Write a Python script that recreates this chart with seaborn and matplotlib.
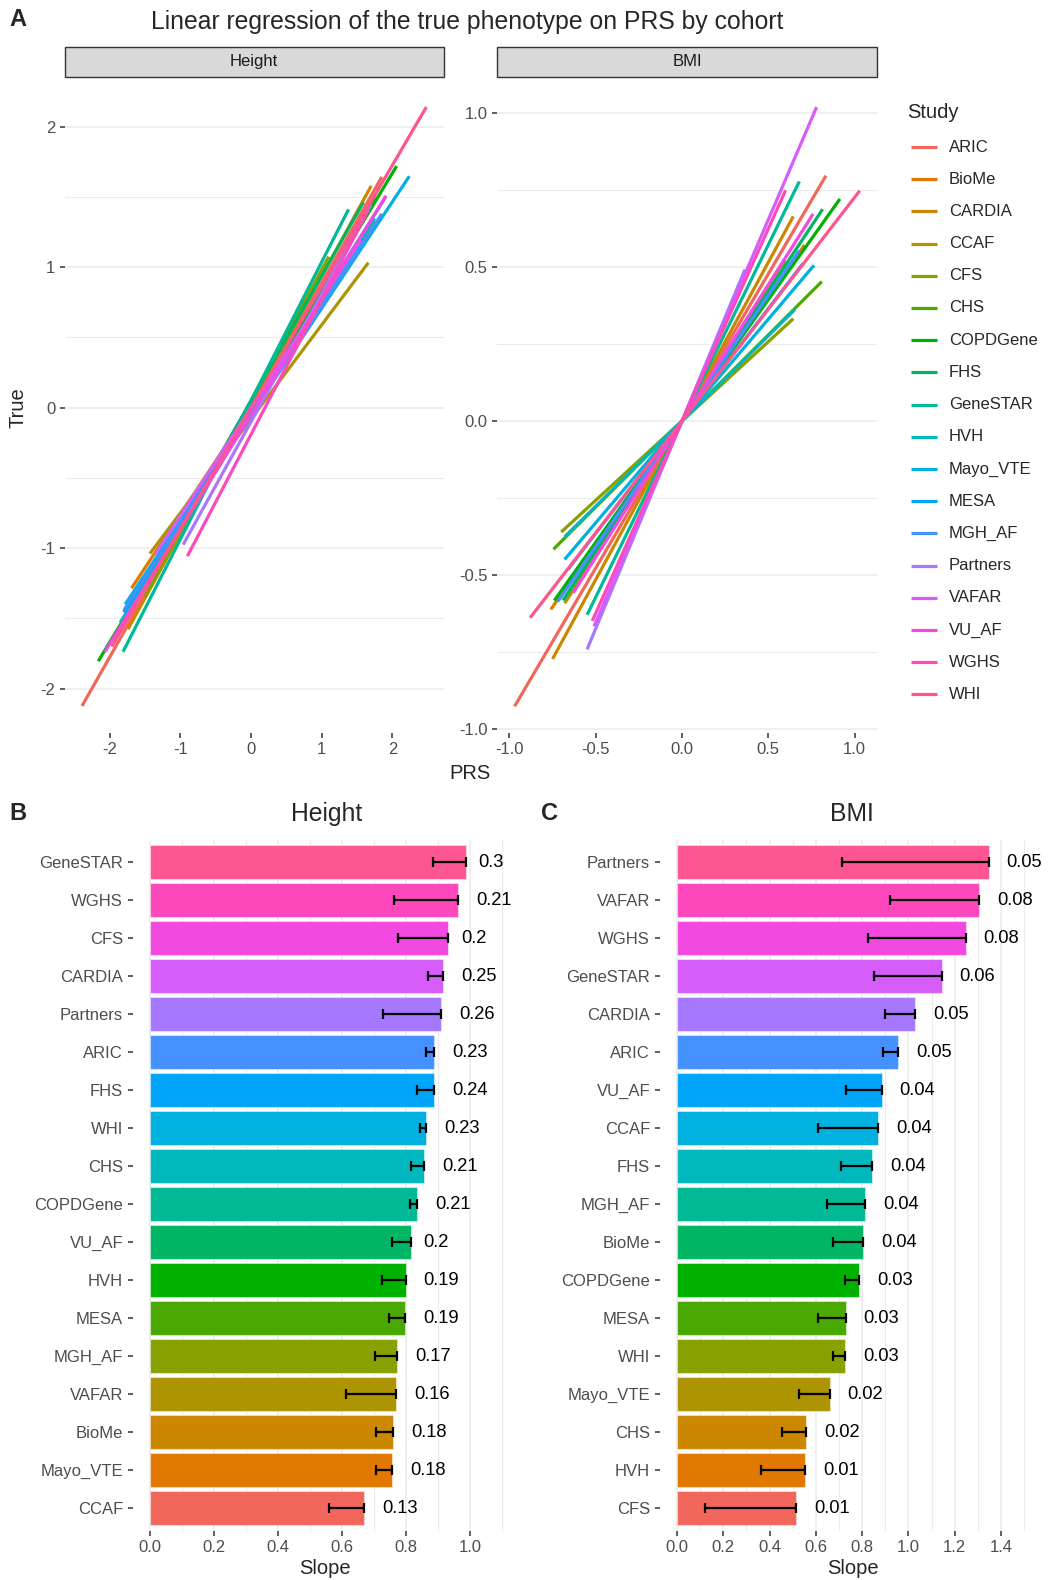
import numpy as np
import pandas as pd
import matplotlib
matplotlib.use("Agg")
import matplotlib.pyplot as plt
import matplotlib.transforms as mtransforms
from matplotlib.patches import Rectangle
from matplotlib.lines import Line2D
import seaborn as sns

# ---------------- data ----------------
studies = ["ARIC", "BioMe", "CARDIA", "CCAF", "CFS", "CHS", "COPDGene", "FHS", "GeneSTAR",
           "HVH", "Mayo_VTE", "MESA", "MGH_AF", "Partners", "VAFAR", "VU_AF", "WGHS", "WHI"]

# panel B, top to bottom
height_order = ["GeneSTAR", "WGHS", "CFS", "CARDIA", "Partners", "ARIC", "FHS", "WHI", "CHS",
                "COPDGene", "VU_AF", "HVH", "MESA", "MGH_AF", "VAFAR", "BioMe", "Mayo_VTE", "CCAF"]
height_slope = [0.987, 0.963, 0.932, 0.917, 0.911, 0.888, 0.888, 0.863, 0.857,
                0.835, 0.816, 0.799, 0.798, 0.773, 0.770, 0.760, 0.758, 0.670]
height_lower = [0.885, 0.764, 0.774, 0.869, 0.729, 0.863, 0.835, 0.844, 0.815,
                0.813, 0.755, 0.724, 0.748, 0.704, 0.613, 0.706, 0.706, 0.560]
height_label = ["0.3", "0.21", "0.2", "0.25", "0.26", "0.23", "0.24", "0.23", "0.21",
                "0.21", "0.2", "0.19", "0.19", "0.17", "0.16", "0.18", "0.18", "0.13"]

# panel C, top to bottom
bmi_order = ["Partners", "VAFAR", "WGHS", "GeneSTAR", "CARDIA", "ARIC", "VU_AF", "CCAF", "FHS",
             "MGH_AF", "BioMe", "COPDGene", "MESA", "WHI", "Mayo_VTE", "CHS", "HVH", "CFS"]
bmi_slope = [1.348, 1.307, 1.248, 1.144, 1.030, 0.955, 0.885, 0.870, 0.844,
             0.814, 0.805, 0.788, 0.730, 0.726, 0.661, 0.559, 0.553, 0.515]
bmi_lower = [0.712, 0.920, 0.824, 0.851, 0.899, 0.892, 0.729, 0.608, 0.707,
             0.647, 0.676, 0.726, 0.608, 0.673, 0.527, 0.454, 0.363, 0.122]
bmi_label = ["0.05", "0.08", "0.08", "0.06", "0.05", "0.05", "0.04", "0.04", "0.04",
             "0.04", "0.04", "0.03", "0.03", "0.03", "0.02", "0.02", "0.01", "0.01"]

# panel A: PRS range and intercept of each cohort's fit (order of `studies`)
height_prs_min = [-2.39, -1.69, -1.74, -1.43, -1.50, -1.90, -2.16, -1.57, -1.81,
                  -1.85, -1.78, -1.80, -1.80, -0.96, -1.35, -2.07, -0.90, -1.97]
height_prs_max = [1.85, 1.75, 1.70, 1.66, 1.10, 1.75, 2.06, 1.59, 1.38,
                  1.75, 2.24, 1.90, 1.85, 1.70, 1.55, 1.91, 1.65, 2.48]
height_icpt = [0.00, 0.00, 0.02, -0.08, 0.05, 0.00, 0.00, 0.05, 0.05,
               -0.05, -0.05, -0.02, -0.05, -0.10, 0.00, -0.05, -0.19, 0.00]

bmi_prs_min = [-0.97, -0.76, -0.75, -0.68, -0.70, -0.745, -0.74, -0.69, -0.55,
               -0.68, -0.68, -0.66, -0.72, -0.55, -0.51, -0.63, -0.52, -0.88]
bmi_prs_max = [0.834, 0.71, 0.645, 0.60, 0.645, 0.81, 0.915, 0.815, 0.68,
               0.655, 0.765, 0.70, 0.68, 0.365, 0.78, 0.76, 0.60, 1.03]
bmi_icpt = [0.0, 0.0, 0.0, 0.0, 0.0, 0.0, 0.0, 0.0, 0.0,
            0.0, 0.0, 0.0, 0.0, 0.0, 0.0, 0.0, 0.0, 0.0]


# ggplot-like hue palette
def hcl(h, c=110, l=61):
    h = np.deg2rad(h)
    U, V = c * np.cos(h), c * np.sin(h)
    Y = 100 * ((l + 16) / 116) ** 3
    u = U / (13 * l) + 0.1978398
    v = V / (13 * l) + 0.4683363
    X = 9 * Y * u / (4 * v)
    Z = -X / 3 - 5 * Y + 3 * Y / v
    rgb = np.array([3.240479 * X - 1.537150 * Y - 0.498535 * Z,
                    -0.969256 * X + 1.875992 * Y + 0.041556 * Z,
                    0.055648 * X - 0.204043 * Y + 1.057311 * Z]) / 100
    rgb = np.clip(rgb, 0, None)
    rgb = np.where(rgb > 0.00304, 1.055 * rgb ** (1 / 2.4) - 0.055, 12.92 * rgb)
    return tuple(np.clip(rgb, 0, 1))


pal = [hcl(15 + 20 * i) for i in range(18)]
study_pal = dict(zip(studies, pal))

sns.set_style("white")
plt.rcParams['font.family'] = ['Liberation Sans', 'DejaVu Sans']
plt.rcParams['axes.unicode_minus'] = False

W, H = 1051, 1580
fig = plt.figure(figsize=(W / 100, H / 100), dpi=100)

GRID = '#EBEBEB'
TICKC = '#4D4D4D'


def px_axes(l, t, r, b):
    return fig.add_axes([l / W, 1 - b / H, (r - l) / W, (b - t) / H])


def ftext(x, y, s, **kw):
    return fig.text(x / W, 1 - y / H, s, **kw)


def style(ax):
    for sp in ax.spines.values():
        sp.set_visible(False)
    ax.tick_params(bottom=True, left=True, length=3.6, width=1.1, color='#333333',
                   labelsize=12, labelcolor=TICKC, pad=3)
    ax.set_xlabel('')
    ax.set_ylabel('')


# ---------------- panel A ----------------
def line_frame(prs_min, prs_max, icpt, slopes_by_study):
    rows = []
    for s, a, b, c in zip(studies, prs_min, prs_max, icpt):
        k = slopes_by_study[s]
        rows.append((s, a, c + k * a))
        rows.append((s, b, c + k * b))
    return pd.DataFrame(rows, columns=['study', 'prs', 'true'])


df_h = line_frame(height_prs_min, height_prs_max, height_icpt, dict(zip(height_order, height_slope)))
df_b = line_frame(bmi_prs_min, bmi_prs_max, bmi_icpt, dict(zip(bmi_order, bmi_slope)))

axA1 = px_axes(64.5, 77, 443.5, 733)
axA2 = px_axes(497, 77, 877, 733)
for ax, df, xl, yl, yt, yminor, xt in [
        (axA1, df_h, (-2.638, 2.723), (-2.315, 2.354), [-2, -1, 0, 1, 2], [-1.5, -0.5, 0.5, 1.5], [-2, -1, 0, 1, 2]),
        (axA2, df_b, (-1.072, 1.130), (-1.013, 1.117), [-1, -0.5, 0, 0.5, 1], [-0.75, -0.25, 0.25, 0.75],
         [-1, -0.5, 0, 0.5, 1])]:
    for v in yt + yminor:
        ax.axhline(v, color=GRID, lw=1.1 if v in yt else 0.8, zorder=0)
    sns.lineplot(data=df, x='prs', y='true', hue='study', hue_order=studies, palette=study_pal,
                 estimator=None, lw=2.3, legend=False, ax=ax, solid_capstyle='butt')
    ax.set_xlim(*xl)
    ax.set_ylim(*yl)
    ax.set_yticks(yt)
    ax.set_xticks(xt)
    style(ax)

axA1.set_yticklabels(['-2', '-1', '0', '1', '2'])
axA1.set_xticklabels(['-2', '-1', '0', '1', '2'])
axA2.set_yticklabels(['-1.0', '-0.5', '0.0', '0.5', '1.0'])
axA2.set_xticklabels(['-1.0', '-0.5', '0.0', '0.5', '1.0'])

# strips
for (l, r), name in [((64.5, 443.5), 'Height'), ((497, 877), 'BMI')]:
    fig.patches.append(Rectangle((l / W, 1 - 76.5 / H), (r - l) / W, 30 / H, transform=fig.transFigure,
                                 facecolor='#D9D9D9', edgecolor='#333333', lw=1.0))
    ftext((l + r) / 2, 61.5, name, ha='center', va='center', fontsize=12, color='#1A1A1A')

ftext(18, 20, 'A', fontsize=17, fontweight='bold', ha='center', va='center')
ftext(467, 22, 'Linear regression of the true phenotype on PRS by cohort', fontsize=17.8,
      ha='center', va='center')
ftext(18, 408, 'True', fontsize=14.5, rotation=90, ha='center', va='center')
ftext(470, 774, 'PRS', fontsize=14.5, ha='center', va='center')

# legend
ftext(907, 112, 'Study', fontsize=14.5, ha='left', va='center')
for i, s in enumerate(studies):
    y = 147 + 32.2 * i
    fig.lines.append(Line2D([911 / W, 937 / W], [1 - y / H, 1 - y / H], transform=fig.transFigure,
                            color=study_pal[s], lw=2.3, solid_capstyle='butt'))
    ftext(949, y, s, fontsize=12, ha='left', va='center')

# ---------------- panels B and C ----------------
axB = px_axes(133, 839.5, 507, 1531)
axC = px_axes(660, 839.5, 1034, 1531)
bar_colors = [pal[17 - i] for i in range(18)]
value_texts = []
for ax, order, slope, lower, labs, xl, xmaj, xmin_ in [
        (axB, height_order, height_slope, height_lower, height_label, (-0.053, 1.116),
         np.arange(0, 1.01, 0.2), np.arange(0.1, 1.11, 0.2)),
        (axC, bmi_order, bmi_slope, bmi_lower, bmi_label, (-0.0735, 1.543),
         np.arange(0, 1.41, 0.2), np.arange(0.1, 1.51, 0.2))]:
    for v in xmaj:
        ax.axvline(v, color=GRID, lw=1.1, zorder=0)
    for v in xmin_:
        ax.axvline(v, color=GRID, lw=0.8, zorder=0)
    sns.barplot(x=slope, y=order, hue=order, palette=bar_colors, orient='h', width=0.9,
                saturation=1, errorbar=None, legend=False, ax=ax,
                edgecolor=(1, 1, 1, 0.45), linewidth=0.8, zorder=2)
    pos = np.arange(len(order))
    ax.errorbar(slope, pos, xerr=[np.array(slope) - np.array(lower), np.zeros(len(order))],
                fmt='none', ecolor='black', elinewidth=1.6, capsize=3.5, capthick=1.6, zorder=3)
    for i, (s, t) in enumerate(zip(slope, labs)):
        value_texts.append((ax, ax.text(s, i, t, ha='left', va='center', fontsize=13.2,
                                        color='black', clip_on=False)))
    ax.set_xlim(*xl)
    ax.set_ylim(17.6, -0.6)
    ax.set_xticks(xmaj)
    ax.set_xticklabels([f'{v:.1f}' for v in xmaj])
    style(ax)
    ax.tick_params(axis='y', labelsize=12, pad=3.5)

# hjust = -0.5 : shift each value label right by half its own width
fig.canvas.draw()
rend = fig.canvas.get_renderer()
for ax, t in value_texts:
    w = t.get_window_extent(rend).width
    t.set_transform(ax.transData + mtransforms.ScaledTranslation(0.5 * w / fig.dpi, 0, fig.dpi_scale_trans))

ftext(18, 814, 'B', fontsize=17, fontweight='bold', ha='center', va='center')
ftext(549, 814, 'C', fontsize=17, fontweight='bold', ha='center', va='center')
ftext(326.5, 814, 'Height', fontsize=17.8, ha='center', va='center')
ftext(852, 814, 'BMI', fontsize=17.8, ha='center', va='center')
ftext(325, 1568, 'Slope', fontsize=14.5, ha='center', va='center')
ftext(853, 1568, 'Slope', fontsize=14.5, ha='center', va='center')

fig.savefig('out.png', dpi=100)
